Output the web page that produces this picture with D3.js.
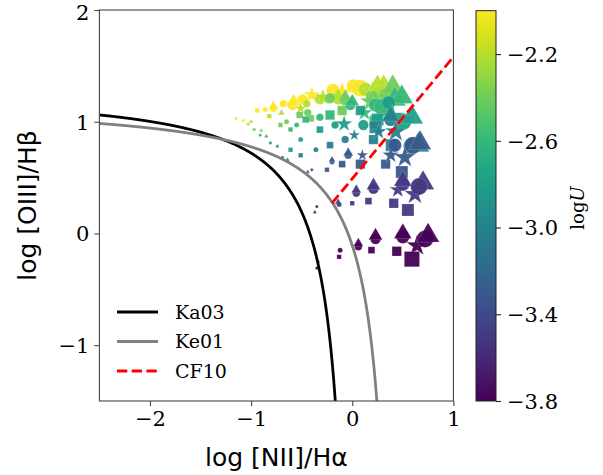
<!DOCTYPE html>
<html><head><meta charset="utf-8">
<script src="https://cdn.jsdelivr.net/npm/d3@7"></script>
<style>body{margin:0;background:#fff}</style></head>
<body><svg id="c" width="603" height="475"></svg>
<script>
// ---- data ----
const xTicks = [-2, -1, 0, 1];
const yTicks = [-1, 0, 1, 2];
const cbTicks = [-3.8, -3.4, -3.0, -2.6, -2.2];
const xDomain = [-2.5, 1];
const yDomain = [-1.5, 2];
const uDomain = [-3.8, -2.0];
const legendNames = ["Ka03", "Ke01", "CF10"];
// demarcation coefficients: y = a/(x-b)+c
const ka03 = [0.61, 0.05, 1.3];
const ke01 = [0.61, 0.47, 1.19];
// CF10: y = m*x + q, from xStart to 1
const cf10 = [1.09, 0.49, -0.2];

// model points: x, y, logU, marker, size index
const ptX = [
 -1.15,-1.08,-0.94,-0.86,-0.78,-0.78,-0.68,-0.59,-0.58,-0.49,-0.40,-0.19,-0.10,0.01,0.08,
 -1.03,-1.00,-0.82,-0.70,-0.51,-0.45,-0.32,-0.29,-0.14,-0.14,0.13,0.20,0.25,0.31,0.27,
 -0.97,-0.90,-0.71,-0.65,-0.52,-0.44,-0.41,-0.22,-0.07,-0.07,-0.10,0.20,0.18,0.33,0.40,0.35,
 -0.91,-0.85,-0.61,-0.55,-0.46,-0.32,-0.22,-0.02,0.00,0.12,0.23,0.23,0.42,0.49,0.30,
 -0.81,-0.74,-0.61,-0.51,-0.32,-0.17,-0.08,0.08,0.11,0.36,0.25,0.50,0.59,0.40,
 -0.69,-0.64,-0.51,-0.36,-0.22,-0.07,0.02,0.21,0.23,0.26,0.38,0.38,0.43,0.39,0.59,0.65,
 -0.44,-0.40,-0.25,-0.20,-0.20,-0.10,-0.04,-0.04,0.10,0.08,0.33,0.38,0.42,0.52,0.49,0.60,0.67,
 -0.35,-0.37,-0.14,-0.13,0.00,0.04,0.04,0.16,0.21,0.21,0.41,0.45,0.50,0.50,0.55,0.62,0.70,0.66,
 -0.35,-0.34,-0.12,-0.13,0.06,0.06,0.19,0.23,0.23,0.44,0.50,0.50,0.64,0.59,0.72,0.75
];
const ptY = [
 1.03,1.01,1.10,1.11,1.12,1.14,1.16,1.15,1.18,1.20,1.24,1.28,1.26,1.32,1.30,
 0.98,1.00,1.05,1.08,1.12,1.16,1.20,1.22,1.20,1.23,1.29,1.27,1.33,1.31,1.25,
 0.93,0.92,0.97,1.00,1.06,1.08,1.03,1.21,1.19,1.22,1.10,1.22,1.18,1.24,1.31,1.10,
 0.88,0.87,0.93,0.97,1.02,1.04,1.06,1.15,1.18,1.08,1.15,1.00,1.20,1.22,1.13,
 0.81,0.78,0.75,0.84,0.93,0.97,0.98,1.10,0.97,1.17,1.02,1.00,1.04,1.05,
 0.68,0.66,0.70,0.75,0.79,0.84,0.88,0.84,0.95,0.91,1.02,1.05,0.91,0.79,0.78,0.79,
 0.55,0.57,0.57,0.64,0.66,0.62,0.70,0.72,0.70,0.62,0.62,0.70,0.79,0.68,0.55,0.79,0.81,
 0.24,0.19,0.28,0.26,0.27,0.36,0.39,0.29,0.40,0.43,0.27,0.39,0.44,0.47,0.21,0.35,0.45,0.42,
 -0.31,-0.25,-0.15,-0.21,-0.12,-0.09,-0.15,-0.05,-0.02,-0.16,-0.03,0.00,-0.11,-0.23,-0.05,-0.02
];
const rowU = [-2.0, -2.2, -2.4, -2.6, -2.8, -3.0, -3.3, -3.5, -3.8];
const rowCount = [15, 15, 16, 15, 14, 16, 17, 18, 16];
const ptShape = [
 "o","s","s","o","o","^","o","o","^","o","*","o","*","o","o",
 "^","o","s","^","*","o","o","*","o","^","o","*","^","^","o",
 "o","^","s","o","s","o","s","o","o","^","s","o","*","o","^","s",
 "o","^","s","o","s","o","s","o","^","*","o","s","^","^","o",
 "o","s","s","o","s","o","*","s","o","o","s","o","^","*",
 "o","^","s","o","s","o","*","s","s","*","o","^","*","s","o","^",
 "^","o","s","o","^","s","o","^","*","s","s","*","o","*","s","o","^",
 "o","^","^","o","s","o","^","s","o","^","s","*","o","^","s","*","^","o",
 "o","^","o","s","o","^","s","o","^","s","o","^","*","s","o","^"
];
const ptSize = [
 0,0,1,1,2,2,2,3,3,3,3,4,4,4,5,
 0,0,1,1,2,2,3,3,3,3,4,4,4,5,5,
 0,0,1,1,2,2,2,3,3,3,3,4,4,4,5,4,
 0,0,1,1,2,2,3,3,3,3,4,4,5,5,5,
 0,0,1,1,2,2,3,3,3,4,4,5,5,4,
 0,0,1,1,2,2,2,3,4,3,4,4,4,4,5,5,
 0,0,1,1,1,2,2,2,2,3,3,3,4,4,4,5,5,
 0,0,1,1,1,2,2,2,3,3,3,3,4,4,4,4,5,5,
 0,0,1,1,2,2,2,3,3,3,4,4,4,5,5,5
];

// ---- layout ----
const svg = d3.select("#c");
const L = 99.4, R = 453.4, T = 10, B = 401;
const x = d3.scaleLinear().domain(xDomain).range([L, R]);
const y = d3.scaleLinear().domain(yDomain).range([B, T]);
const cScale = d3.scaleSequential(d3.interpolateViridis).domain(uDomain);
const diam = d3.scaleOrdinal().domain([0,1,2,3,4,5]).range([3.2, 5, 7.5, 10.5, 13.5, 17]);
const serif = "DejaVu Serif", sans = "DejaVu Sans";

svg.append("defs").append("clipPath").attr("id","clip")
  .append("rect").attr("x",L).attr("y",T).attr("width",R-L).attr("height",B-T);

// points
const rowOf = [];
rowCount.forEach((n,i)=>{for(let k=0;k<n;k++) rowOf.push(i);});
const pts = ptX.map((v,i)=>({x:v, y:ptY[i], u:rowU[rowOf[i]], s:ptShape[i], z:ptSize[i]}));
const symType = {"o":d3.symbolCircle,"^":d3.symbolTriangle,"s":d3.symbolSquare,"*":d3.symbolStar};
function area(p){
  const d = diam(p.z);
  if (p.s==="o") return Math.PI*d*d/4;
  if (p.s==="s") return d*d*0.8;
  return d*d*0.75;
}
const gp = svg.append("g").attr("clip-path","url(#clip)");
gp.selectAll("path.pt").data(pts).join("path").attr("class","pt")
  .attr("transform", d=>`translate(${x(d.x)},${y(d.y)})`)
  .attr("d", d=>d3.symbol().type(symType[d.s]).size(area(d))())
  .attr("fill", d=>cScale(d.u)).attr("fill-opacity",0.95)
  .attr("stroke","#fff").attr("stroke-opacity",0.35).attr("stroke-width",0.5);

// curves
const line = d3.line().x(d=>x(d[0])).y(d=>y(d[1]));
function hyper(c, xmax){
  const out=[];
  for(let v=xDomain[0]; v<xmax; v+=0.005){ const yy=c[0]/(v-c[1])+c[2]; if(yy<yDomain[0]-0.2) break; out.push([v,yy]); }
  return out;
}
gp.append("path").attr("d", line(hyper(ka03, ka03[1]))).attr("fill","none").attr("stroke","#000").attr("stroke-width",2.8);
gp.append("path").attr("d", line(hyper(ke01, ke01[1]))).attr("fill","none").attr("stroke","#808080").attr("stroke-width",2.8);
gp.append("path").attr("d", line([[cf10[2], cf10[0]*cf10[2]+cf10[1]],[xDomain[1], cf10[0]*xDomain[1]+cf10[1]]]))
  .attr("fill","none").attr("stroke","#ff0000").attr("stroke-width",2.8).attr("stroke-dasharray","10.3,4.4");

// frame
svg.append("rect").attr("x",L).attr("y",T).attr("width",R-L).attr("height",B-T)
  .attr("fill","none").attr("stroke","#444").attr("stroke-width",1.1);

// axes
const fmtInt = d=>d3.format("d")(d).replace("-","\u2212");
const xa = svg.append("g").attr("transform",`translate(0,${B})`)
  .call(d3.axisBottom(x).tickValues(xTicks).tickSize(5).tickPadding(5).tickFormat(fmtInt));
const ya = svg.append("g").attr("transform",`translate(${L},0)`)
  .call(d3.axisLeft(y).tickValues(yTicks).tickSize(5).tickPadding(5).tickFormat(fmtInt));
[xa,ya].forEach(a=>{
  a.select(".domain").remove();
  a.selectAll(".tick line").attr("stroke","#444").attr("stroke-width",1.1);
  a.selectAll(".tick text").attr("font-family",serif).attr("font-size",21).attr("fill","#000");
});
ya.selectAll(".tick text").attr("dy", d => d === yTicks[yTicks.length-1] ? "0.46em" : "0.35em");

svg.append("text").attr("x",(L+R)/2).attr("y",466).attr("text-anchor","middle")
  .attr("font-family",sans).attr("font-size",25).text("log [NII]/Hα");
svg.append("text").attr("transform",`translate(36,${(T+B)/2}) rotate(-90)`).attr("text-anchor","middle")
  .attr("font-family",sans).attr("font-size",25).text("log [OIII]/Hβ");

// legend
const lg = svg.append("g");
const lgStroke = ["#000","#808080","#ff0000"];
legendNames.forEach((n,i)=>{
  const yy = 312 + i*29.5;
  lg.append("line").attr("x1",117).attr("x2",158).attr("y1",yy).attr("y2",yy)
    .attr("stroke",lgStroke[i]).attr("stroke-width",2.8)
    .attr("stroke-dasharray", i===2 ? "10.3,4.4" : null);
  lg.append("text").attr("x",175).attr("y",yy).attr("dy","0.35em")
    .attr("font-family",serif).attr("font-size",19).text(n);
});

// colorbar
const cbL = 476, cbR = 496, cbT = 10.7, cbB = 401;
const grad = svg.select("defs").append("linearGradient").attr("id","vir")
  .attr("x1",0).attr("y1",1).attr("x2",0).attr("y2",0);
d3.range(0,1.0001,0.05).forEach(t=>{
  grad.append("stop").attr("offset",t).attr("stop-color",d3.interpolateViridis(t));
});
svg.append("rect").attr("x",cbL).attr("y",cbT).attr("width",cbR-cbL).attr("height",cbB-cbT)
  .attr("fill","url(#vir)").attr("stroke","#222").attr("stroke-width",1);
const cy = d3.scaleLinear().domain(uDomain).range([cbB, cbT]);
const ca = svg.append("g").attr("transform",`translate(${cbR},0)`)
  .call(d3.axisRight(cy).tickValues(cbTicks).tickSize(5).tickPadding(6).tickFormat(d=>d3.format(".1f")(d).replace("-","\u2212")));
ca.select(".domain").remove();
ca.selectAll(".tick line").attr("stroke","#222").attr("stroke-width",1.1);
ca.selectAll(".tick text").attr("font-family",serif).attr("font-size",21).attr("fill","#000").attr("dy","0.35em");
const ul = svg.append("text").attr("transform",`translate(584,208) rotate(-90)`).attr("text-anchor","middle")
  .attr("font-family",serif).attr("font-size",18);
ul.append("tspan").text("log");
ul.append("tspan").attr("font-style","italic").text("U");
</script></body></html>
